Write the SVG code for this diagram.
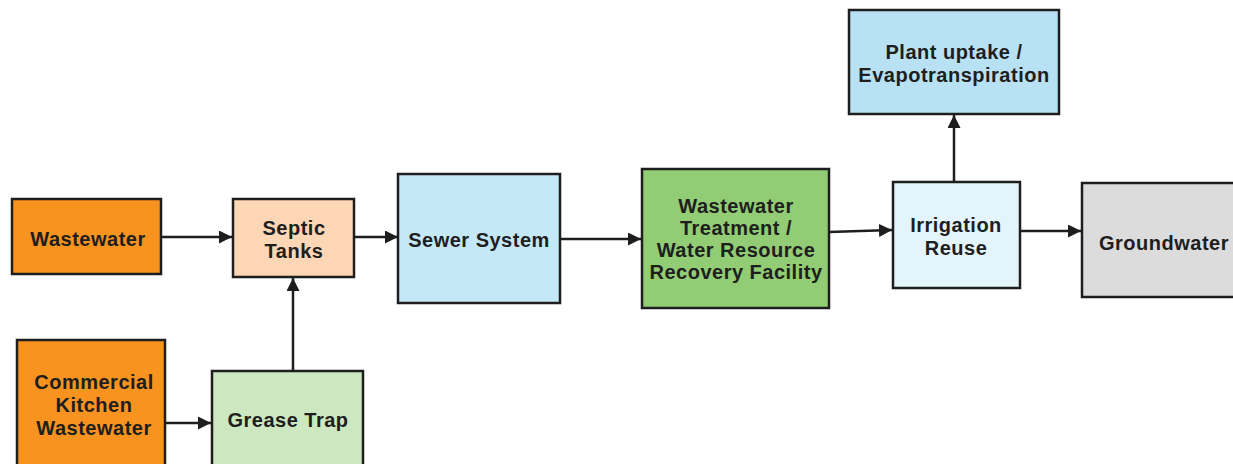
<svg xmlns="http://www.w3.org/2000/svg" width="1233" height="464" viewBox="0 0 1233 464">
<style>
.box{stroke:#1e1e1e;stroke-width:2.5}
.t{font-family:"Liberation Sans",Arial,sans-serif;font-weight:bold;font-size:20px;fill:#1e1e1e;text-anchor:middle;letter-spacing:0.5px}
.c{stroke:#1e1e1e;stroke-width:2.5;fill:none;marker-end:url(#ah)}
</style>
<defs>
<marker id="ah" viewBox="0 0 10 10" refX="10" refY="5" markerWidth="5.2" markerHeight="5.2" markerUnits="strokeWidth" orient="auto">
<path d="M0,0 L10,5 L0,10 Z" fill="#1e1e1e"/>
</marker>
</defs>
<rect width="1233" height="464" fill="#ffffff"/>
<g id="connectors">
<line class="c" x1="161" y1="237" x2="232" y2="237"/>
<line class="c" x1="354" y1="237" x2="398" y2="237"/>
<line class="c" x1="560" y1="239" x2="641" y2="239"/>
<line class="c" x1="829" y1="232" x2="892" y2="230"/>
<line class="c" x1="954" y1="182" x2="954" y2="115"/>
<line class="c" x1="1020" y1="231" x2="1081" y2="231"/>
<line class="c" x1="165" y1="423" x2="211" y2="423"/>
<line class="c" x1="293" y1="371" x2="293" y2="278"/>
</g>
<g id="wastewater">
<rect class="box" x="12" y="199" width="149" height="75" fill="#f7931e"/>
<text class="t" x="88" y="246">Wastewater</text>
</g>
<g id="septic">
<rect class="box" x="233" y="199" width="121" height="78" fill="#fcd6b5"/>
<text class="t" x="294" y="235">Septic</text>
<text class="t" x="294" y="258">Tanks</text>
</g>
<g id="sewer">
<rect class="box" x="398" y="174" width="162" height="129" fill="#c4e8f6"/>
<text class="t" x="479" y="247">Sewer System</text>
</g>
<g id="wwtp">
<rect class="box" x="642" y="169" width="187" height="139" fill="#92cc74"/>
<text class="t" x="736" y="213">Wastewater</text>
<text class="t" x="736" y="235">Treatment /</text>
<text class="t" x="736" y="257">Water Resource</text>
<text class="t" x="736" y="279">Recovery Facility</text>
</g>
<g id="irrigation">
<rect class="box" x="893" y="182" width="127" height="106" fill="#e3f4fa"/>
<text class="t" x="956" y="232">Irrigation</text>
<text class="t" x="956" y="255">Reuse</text>
</g>
<g id="plant">
<rect class="box" x="849" y="10" width="210" height="104" fill="#b8e1f3"/>
<text class="t" x="954" y="59">Plant uptake /</text>
<text class="t" x="954" y="82">Evapotranspiration</text>
</g>
<g id="groundwater">
<rect class="box" x="1082" y="183" width="160" height="114" fill="#dcdcdc"/>
<text class="t" x="1164" y="250">Groundwater</text>
</g>
<g id="commercial">
<rect class="box" x="17" y="340" width="148" height="130" fill="#f7931e"/>
<text class="t" x="94" y="389">Commercial</text>
<text class="t" x="94" y="412">Kitchen</text>
<text class="t" x="94" y="435">Wastewater</text>
</g>
<g id="grease">
<rect class="box" x="212" y="371" width="151" height="99" fill="#cde8c1"/>
<text class="t" x="288" y="427">Grease Trap</text>
</g>
</svg>
